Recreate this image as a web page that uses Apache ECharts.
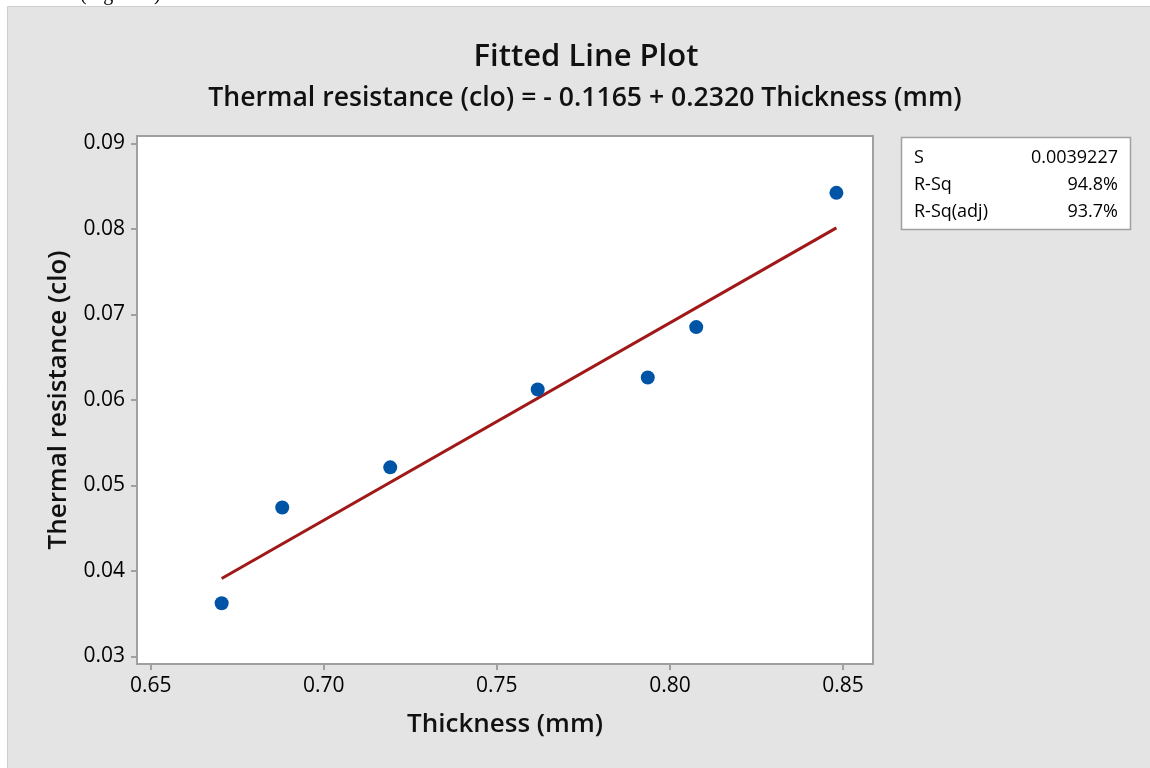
<!DOCTYPE html>
<html>
<head>
<meta charset="utf-8">
<title>Fitted Line Plot</title>
<script src="https://cdn.jsdelivr.net/npm/echarts@6/dist/echarts.min.js"></script>
<style>
  html, body { margin: 0; padding: 0; background: #fff; }
  #chart_fit { width: 1150px; height: 768px; }
</style>
</head>
<body>
<div id="chart_fit"></div>
<script>
// measured points (thickness mm, thermal resistance clo)
const thickness = [0.6705, 0.6880, 0.7192, 0.7618, 0.7936, 0.8076, 0.8481]
const resistance = [0.0362, 0.0474, 0.0521, 0.0612, 0.0626, 0.0685, 0.0842]

// ends of the fitted line
const fitX = [0.6705, 0.8481]
const fitY = [0.0391, 0.0801]

const xTicks = [0.65, 0.70, 0.75, 0.80, 0.85]
const yTicks = [0.03, 0.04, 0.05, 0.06, 0.07, 0.08, 0.09]

const statNames = ['S', 'R-Sq', 'R-Sq(adj)']
const statValues = ['0.0039227', '94.8%', '93.7%']

const font = '"Open Sans", "Noto Sans", sans-serif'
const axisGray = '#a0a0a0'

let chart = echarts.init(document.getElementById('chart_fit'))

// stats box children, placed inside the box group
let statItems = [{
  type: 'rect',
  shape: { x: 0.5, y: 0.5, width: 229, height: 92 },
  style: { fill: '#fff', stroke: axisGray, lineWidth: 1.5 }
}]
for (let i = 0; i < statNames.length; i++) {
  statItems.push({
    type: 'text', x: 13, y: 21 + i * 27,
    style: { text: statNames[i], font: '18px ' + font, fill: '#000', verticalAlign: 'middle' }
  })
  statItems.push({
    type: 'text', x: 217, y: 21 + i * 27,
    style: { text: statValues[i], font: '18px ' + font, fill: '#000', align: 'right', verticalAlign: 'middle' }
  })
}

chart.setOption({
  backgroundColor: '#fff',
  animation: false,
  title: [
    {
      text: 'Fitted Line Plot',
      left: 581, top: 37, textAlign: 'center',
      textStyle: { fontFamily: font, fontWeight: 600, fontSize: 31, color: '#111' }
    },
    {
      text: 'Thermal resistance (clo) = - 0.1165 + 0.2320 Thickness (mm)',
      left: 580, top: 80, textAlign: 'center',
      textStyle: { fontFamily: font, fontWeight: 600, fontSize: 26.6, color: '#111' }
    }
  ],
  graphic: [
    {
      type: 'rect', z: -10, silent: true,
      shape: { x: 7.5, y: 6.5, width: 1160, height: 780 },
      style: { fill: '#e4e4e4', stroke: '#cdcdcd', lineWidth: 1 }
    },
    {
      type: 'text', left: 80, top: -15, z: -5,
      style: { text: '(Figure 4)', font: '20px "Liberation Serif", serif', fill: '#000' }
    },
    {
      type: 'group', x: 901, y: 137,
      children: statItems
    }
  ],
  grid: {
    left: 137, top: 136, right: 277, bottom: 104,
    show: true, backgroundColor: '#fff', borderColor: axisGray, borderWidth: 2
  },
  xAxis: {
    type: 'value',
    min: 0.64604, max: 0.85867,
    name: 'Thickness (mm)',
    nameLocation: 'middle', nameGap: 48,
    nameTextStyle: { fontFamily: font, fontWeight: 600, fontSize: 26, color: '#111' },
    splitLine: { show: false },
    axisLine: { show: true, onZero: false, lineStyle: { color: axisGray, width: 2 } },
    axisTick: { show: true, length: 6, customValues: xTicks, lineStyle: { color: axisGray, width: 2 } },
    axisLabel: {
      customValues: xTicks, margin: 12,
      fontFamily: font, fontSize: 21, color: '#000',
      formatter: v => v.toFixed(2)
    }
  },
  yAxis: {
    type: 'value',
    min: 0.0291, max: 0.09085,
    name: 'Thermal resistance (clo)',
    nameLocation: 'middle', nameGap: 65,
    nameTextStyle: { fontFamily: font, fontWeight: 600, fontSize: 26, color: '#111' },
    splitLine: { show: false },
    axisLine: { show: true, onZero: false, lineStyle: { color: axisGray, width: 2 } },
    axisTick: { show: true, length: 6, customValues: yTicks, lineStyle: { color: axisGray, width: 2 } },
    axisLabel: {
      customValues: yTicks, margin: 12,
      fontFamily: font, fontSize: 21, color: '#000',
      formatter: v => v.toFixed(2)
    }
  },
  series: [
    {
      type: 'line',
      data: fitX.map((x, i) => [x, fitY[i]]),
      showSymbol: false,
      lineStyle: { color: '#a01818', width: 3 },
      z: 2
    },
    {
      type: 'scatter',
      data: thickness.map((x, i) => [x, resistance[i]]),
      symbolSize: 14,
      itemStyle: { color: '#0054a6', opacity: 1 },
      z: 3
    }
  ]
})
</script>
</body>
</html>
